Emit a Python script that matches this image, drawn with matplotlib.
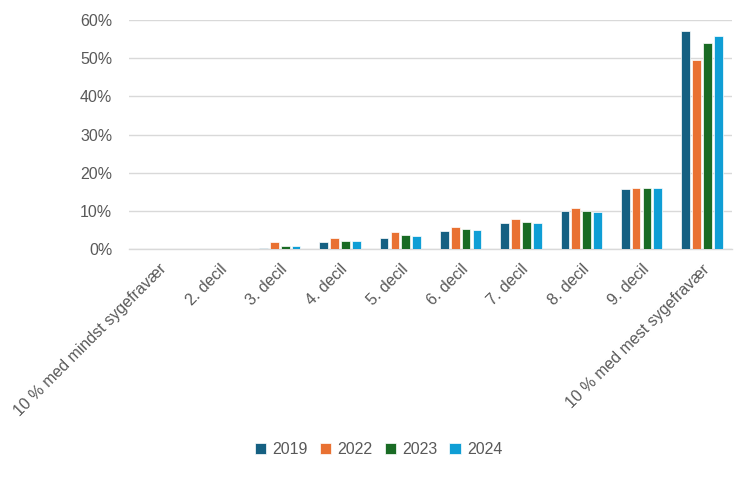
import matplotlib.pyplot as plt
import numpy as np

categories = ['10 % med mindst sygefravær', '2. decil', '3. decil', '4. decil',
              '5. decil', '6. decil', '7. decil', '8. decil', '9. decil',
              '10 % med mest sygefravær']
years = ['2019', '2022', '2023', '2024']
v2019 = [0.0, 0.0, 0.3, 1.8, 3.0, 4.7, 6.8, 10.0, 15.8, 57.1]
v2022 = [0.0, 0.0, 1.8, 3.0, 4.5, 5.8, 7.9, 10.8, 16.1, 49.6]
v2023 = [0.0, 0.0, 0.9, 2.2, 3.7, 5.2, 7.1, 10.0, 16.1, 54.1]
v2024 = [0.0, 0.0, 0.7, 2.0, 3.3, 4.9, 6.8, 9.8, 16.1, 55.9]
colors = ['#156082', '#E97132', '#196B24', '#0F9ED5']

plt.rcParams['font.family'] = ['Liberation Sans', 'DejaVu Sans']
fig = plt.figure(figsize=(7.5, 4.78), dpi=100)
ax = fig.add_axes([0.172, 0.479, 0.804, 0.479])

x = np.arange(len(categories))
step = 0.18
for i, (vals, col, yr) in enumerate(zip([v2019, v2022, v2023, v2024], colors, years)):
    ax.bar(x + (i - 1.5) * step, vals, width=0.145, color=col, edgecolor='white',
           linewidth=0.5, label=yr, zorder=3)

ax.set_ylim(0, 60)
ax.set_xlim(-0.5, len(categories) - 0.5)
ax.set_yticks(range(0, 61, 10))
ax.set_yticklabels([f'{t}%' for t in range(0, 61, 10)])
ax.yaxis.grid(True, color='#d9d9d9', linewidth=1, zorder=0)
for s in ['top', 'right', 'left']:
    ax.spines[s].set_visible(False)
ax.spines['bottom'].set_color('#d9d9d9')
ax.spines['bottom'].set_linewidth(1)
ax.tick_params(axis='both', length=0, colors='#595959', labelsize=11.5)
ax.tick_params(axis='y', pad=12)
ax.tick_params(axis='x', pad=9)
ax.set_xticks(x)
ax.set_xticklabels(categories, rotation=45, ha='right', rotation_mode='anchor')

fig.legend(loc='center', bbox_to_anchor=(0.505, 0.059), ncol=4, frameon=False,
           fontsize=11.5, labelcolor='#595959', handlelength=0.7, handleheight=0.7,
           handletextpad=0.4, columnspacing=0.75)

fig.savefig('out.png', dpi=100)
